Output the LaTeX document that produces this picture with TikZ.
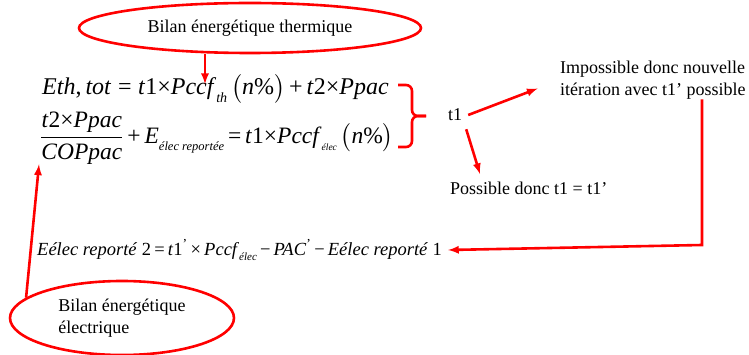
\documentclass[tikz,border=0pt]{standalone}
\usepackage{amsmath}
\usepackage{mathptmx}
\usepackage[no-math]{fontspec}
\setmainfont{Liberation Serif}
\usetikzlibrary{shapes.geometric}
\tikzset{>=latex}
\tikzset{
  bilan/.style={ellipse,draw=red,line width=2.6pt,inner sep=0pt},
  lien/.style={->,red,line width=2.6pt},
  txt/.style={inner sep=0pt,font=\fontsize{18}{22}\selectfont},
  formule/.style={inner sep=0pt,anchor=west,font=\fontsize{24}{28}\selectfont}
}

\begin{document}
\begin{tikzpicture}[x=1pt,y=-1pt]
  \useasboundingbox (0,0) rectangle (749,355); % page size of the reference
  \def\vi#1{\textit{#1}} % italic variable
  \def\ix#1#2{\raisebox{-0.3em}{\fontsize{#1}{#1}\selectfont\itshape #2}} % small italic index
  \def\pn#1{$\bigl($#1$\bigr)$} % tall parentheses
  % energy balances
  \node[bilan,txt,minimum width=342,minimum height=50] (thermo) at (250,28) {Bilan énergétique thermique};
  \node[bilan,txt,minimum width=224,minimum height=74,align=left] (elec) at (122,318) {Bilan énergétique\\électrique};
  % formulas
  \node[formule] (eqth) at (42,89)
    {\vi{Eth},\,\vi{tot}\;=\;\vi{t}1×\vi{Pccf}\ix{14}{th}\,\pn{\vi{n}\%}\,+\,\vi{t}2×\vi{Ppac}};
  \node[formule,font=\fontsize{23.5}{28}\selectfont] (eqel) at (40,138)
    {$\dfrac{\text{\vi{t}2×\vi{Ppac}}}{\text{\vi{COPpac}}}$\,+\,\vi{E}\ix{12.5}{élec reportée}\,=\,\vi{t}1×\vi{Pccf}\ix{9.5}{élec}\,\pn{\vi{n}\%}};
  \node[txt,anchor=west,font=\fontsize{18.5}{22}\selectfont] (eqrep) at (37,250)
    {\vi{Eélec reporté} 2\,=\,\vi{t}1\textsuperscript{'}\,×\,\vi{Pccf}\ix{11}{élec}\,−\,\vi{PAC}\textsuperscript{'}\,−\,\vi{Eélec reporté} 1};
  % choice on t1
  \node[txt] (t1) at (455,115) {t1};
  \node[txt,anchor=west,align=left] (imp) at (560,80) {Impossible donc nouvelle\\itération avec t1’ possible};
  \node[txt,anchor=west] (pos) at (450,188) {Possible donc t1 = t1’};
  \coordinate (pccf) at (205,84); % points to Pccf
  \coordinate (posend) at (480,174);
  \coordinate (turn) at (702,245); % corner of the loop back
  \coordinate (btop) at (398,85);
  \coordinate (bbot) at (398,147);
  \draw[red,line width=2.6pt,rounded corners=6pt] (btop) -- ++(14,0) -- ++(0,31) -- ++(14,0); % system brace
  \draw[red,line width=2.6pt,rounded corners=6pt] (bbot) -- ++(14,0) -- ++(0,-31) -- ++(14,0);
  \draw[lien] (thermo.south -| pccf) -- (pccf);
  \draw[lien] (elec.168) -- ([xshift=-1]eqel.south west);
  \draw[lien,shorten >=24pt] ([xshift=6]t1.east) -- (imp.west);
  \draw[lien] ([shift={(4,8)}]t1.south east) -- (posend);
  \draw[lien] (turn |- imp.south) -- (turn) -- ([xshift=6]eqrep.east); % loop back
\end{tikzpicture}
\end{document}
